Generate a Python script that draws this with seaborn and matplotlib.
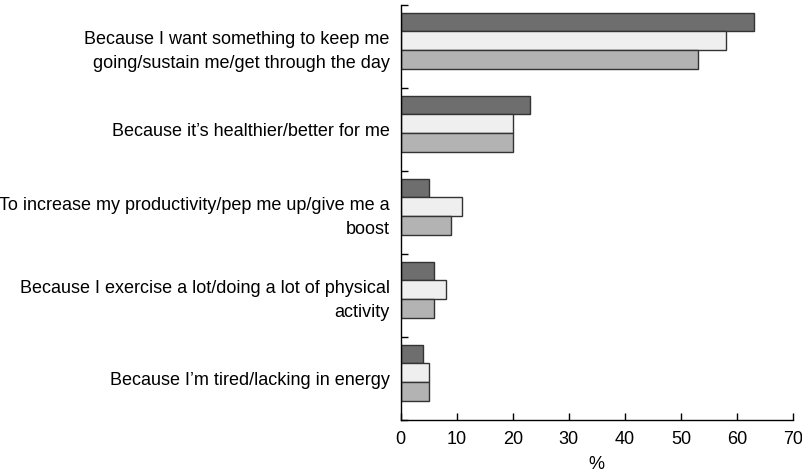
import pandas as pd
import matplotlib
import seaborn as sns
matplotlib.use('AGG')
import matplotlib.pyplot as plt
from matplotlib.ticker import FixedLocator

reasons = [
    'Because I want something to keep me\ngoing/sustain me/get through the day',
    'Because it\u2019s healthier/better for me',
    'To increase my productivity/pep me up/give me a\nboost',
    'Because I exercise a lot/doing a lot of physical\nactivity',
    'Because I\u2019m tired/lacking in energy',
]
groups = ['Group 1', 'Group 2', 'Group 3']
group1 = [63, 23, 5, 6, 4]
group2 = [58, 20, 11, 8, 5]
group3 = [53, 20, 9, 6, 5]
colors = ['#6e6e6e', '#efefef', '#b3b3b3']

df = pd.DataFrame({
    'reason': reasons * 3,
    'group': [g for g in groups for _ in reasons],
    'pct': group1 + group2 + group3,
})

sns.set_style('white')
plt.rcParams['font.family'] = ['Liberation Sans', 'DejaVu Sans']
plt.rcParams['text.color'] = 'black'
plt.rcParams['axes.labelcolor'] = 'black'
plt.rcParams['xtick.color'] = 'black'
plt.rcParams['ytick.color'] = 'black'

fig = plt.figure(figsize=(8.03, 4.75), dpi=100)
ax = fig.add_axes([0.499, 0.116, 0.4885, 0.8735])
sns.barplot(data=df, y='reason', x='pct', hue='group', order=reasons,
            hue_order=groups, palette=colors, width=0.675, orient='h',
            edgecolor='#333333', linewidth=1, saturation=1, legend=False, ax=ax)

# bars sit a little above the middle of each band
off = 0.07
ax.set_xlim(0, 70)
ax.set_ylim(4.5 + off, -0.5 + off)
ax.set_xticks(range(0, 71, 10))
ax.set_yticks([k + off for k in range(len(reasons))])
ax.set_yticklabels(reasons, multialignment='right', linespacing=1.5)
ax.set_xlabel('%', fontsize=13, labelpad=6)
ax.set_ylabel('')
ax.yaxis.set_minor_locator(FixedLocator([k - 0.5 + off for k in range(6)]))
ax.tick_params(axis='y', which='major', length=0, pad=8, labelsize=13)
ax.tick_params(axis='y', which='minor', direction='in', length=5, width=1, left=True)
ax.tick_params(axis='x', direction='in', length=5, width=1, bottom=True, labelsize=13, pad=8)
sns.despine(ax=ax)
for s in ['left', 'bottom']:
    ax.spines[s].set_color('black')
    ax.spines[s].set_linewidth(1)

plt.savefig('out.png', dpi=100)
plt.close(fig)
